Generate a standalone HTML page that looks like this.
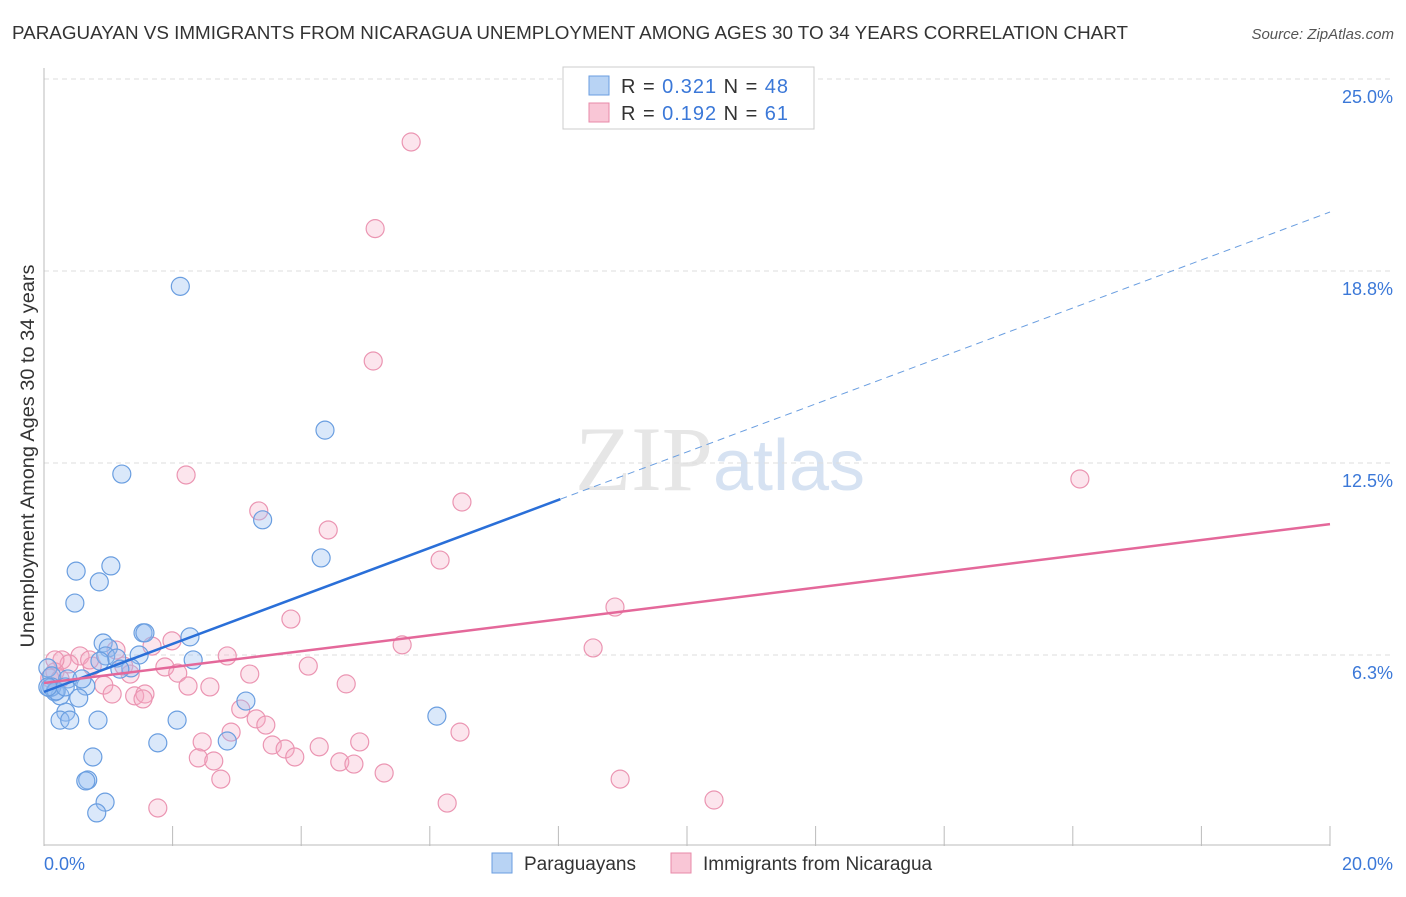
<!DOCTYPE html>
<html><head><meta charset="utf-8"><style>
body{margin:0;background:#fff;font-family:"Liberation Sans",sans-serif}
</style></head><body>
<svg id="chart" width="1406" height="892" xmlns="http://www.w3.org/2000/svg" font-family="Liberation Sans, sans-serif">
<text x="12" y="39" font-size="18" fill="#333" textLength="1116" lengthAdjust="spacingAndGlyphs">PARAGUAYAN VS IMMIGRANTS FROM NICARAGUA UNEMPLOYMENT AMONG AGES 30 TO 34 YEARS CORRELATION CHART</text>
<text x="1394" y="39" font-size="15" fill="#555" font-style="italic" text-anchor="end">Source: ZipAtlas.com</text>
<text x="720" y="490" font-size="92" text-anchor="middle" fill="#e6e6e6" font-family="Liberation Serif, serif">ZIP<tspan fill="#d6e2f2" font-family="Liberation Sans, sans-serif" font-size="72">atlas</tspan></text>
<text transform="translate(34,456) rotate(-90)" font-size="19" fill="#333" text-anchor="middle" textLength="383" lengthAdjust="spacingAndGlyphs">Unemployment Among Ages 30 to 34 years</text>
<g id="grid"></g><g id="axes"></g><g id="pts"></g><g id="lines"></g>
<g>
<rect x="563" y="67" width="251" height="62" fill="#fff" stroke="#ccc"/>
<rect x="589" y="76" width="20" height="19" fill="#b8d3f4" stroke="#6a9ee0"/>
<rect x="589" y="103" width="20" height="19" fill="#f9c6d6" stroke="#e88aa8"/>
<text x="621" y="93" font-size="20" fill="#333" textLength="167" lengthAdjust="spacing">R = <tspan fill="#3b78d8">0.321</tspan>   N = <tspan fill="#3b78d8">48</tspan></text>
<text x="621" y="120" font-size="20" fill="#333" textLength="167" lengthAdjust="spacing">R = <tspan fill="#3b78d8">0.192</tspan>   N =  <tspan fill="#3b78d8">61</tspan></text>
</g>
<g>
<rect x="492" y="853" width="20" height="20" fill="#b8d3f4" stroke="#6a9ee0"/>
<text x="524" y="870" font-size="19" fill="#333">Paraguayans</text>
<rect x="671" y="853" width="20" height="20" fill="#f9c6d6" stroke="#e88aa8"/>
<text x="703" y="870" font-size="19" fill="#333">Immigrants from Nicaragua</text>
</g>
</svg>
<script>
const yTicks=[6.25,12.5,18.75,25];
const yTickLabels=["6.3%","12.5%","18.8%","25.0%"];
const xTickLabels=["0.0%","20.0%"];
const bluePts=[[2.12,18.25],[4.37,13.57],[1.21,12.14],[3.40,10.65],[4.31,9.41],[0.50,8.98],[1.04,9.15],[0.86,8.63],[0.48,7.94],[1.54,6.97],[1.57,6.97],[2.27,6.84],[0.92,6.64],[1.00,6.48],[1.48,6.25],[0.96,6.22],[1.13,6.15],[2.32,6.09],[1.35,5.83],[0.06,5.83],[0.12,5.57],[0.37,5.47],[0.65,5.24],[0.09,5.18],[0.17,5.05],[0.25,4.92],[0.54,4.85],[0.34,4.39],[0.25,4.13],[0.40,4.13],[0.84,4.13],[2.07,4.13],[3.14,4.75],[1.77,3.39],[2.85,3.45],[0.76,2.93],[6.11,4.26],[0.68,2.18],[0.65,2.15],[0.95,1.46],[0.82,1.11],[0.12,5.21],[0.19,5.08],[0.59,5.47],[1.18,5.79],[0.87,6.05],[0.06,5.21],[0.33,5.21]];
const pinkPts=[[5.71,22.95],[5.15,20.13],[5.12,15.82],[2.21,12.11],[16.11,11.98],[6.50,11.23],[3.34,10.94],[4.42,10.32],[6.16,9.34],[8.88,7.81],[3.84,7.42],[1.99,6.71],[8.54,6.48],[5.57,6.58],[1.12,6.41],[1.68,6.54],[2.85,6.22],[0.56,6.22],[0.28,6.09],[0.39,5.96],[0.17,5.70],[0.09,5.50],[0.75,5.89],[1.24,5.89],[1.88,5.86],[2.08,5.66],[3.20,5.63],[4.11,5.89],[4.70,5.31],[2.24,5.24],[2.58,5.21],[0.93,5.27],[1.34,5.63],[1.06,4.98],[1.41,4.92],[1.57,4.98],[1.54,4.82],[3.06,4.49],[3.30,4.17],[2.91,3.74],[3.45,3.97],[6.47,3.74],[2.46,3.42],[4.91,3.42],[3.55,3.32],[3.75,3.19],[4.28,3.26],[3.90,2.93],[2.40,2.90],[2.64,2.80],[4.60,2.77],[4.82,2.70],[5.29,2.41],[2.75,2.21],[8.96,2.21],[6.27,1.43],[10.42,1.53],[1.77,1.27],[0.17,6.09],[0.71,6.09],[0.25,5.47]];
const blueTrend=[5.05,20.67];
const pinkTrend=[5.34,10.51];
const blueSolidEnd=8.03;
const NS="http://www.w3.org/2000/svg";
const X=v=>44+v/20*1286, Y=v=>847-v*30.72;
function mk(t,a,p){const e=document.createElementNS(NS,t);for(const k in a)e.setAttribute(k,a[k]);document.getElementById(p).appendChild(e);return e;}
yTicks.forEach((t,i)=>{
 const g=mk('line',{x1:44,x2:1394,y1:Y(t),y2:Y(t),stroke:'#ddd','stroke-dasharray':'5,4'},'grid');
 
 
 const l=mk('text',{x:1393,y:Y(t)+24,'font-size':18,fill:'#3b78d8','text-anchor':'end'},'axes');l.textContent=yTickLabels[i];
 
 
});
mk('line',{x1:44,x2:44,y1:68,y2:846,stroke:'#bbb'},'axes');
mk('line',{x1:44,x2:1330,y1:845,y2:845,stroke:'#bbb'},'axes');
for(let i=1;i<=10;i++){const t=mk('line',{x1:X(i*2),x2:X(i*2),y1:826,y2:846,stroke:'#bbb'},'axes');
 
 }
[[0,'start',44],[1,'end',1393]].forEach(([i,a,x])=>{const l=mk('text',{x:x,y:870,'font-size':18,fill:'#3b78d8','text-anchor':a},'axes');l.textContent=xTickLabels[i];
 
 });
pinkPts.forEach(p=>{const c=mk('circle',{cx:X(p[0]),cy:Y(p[1]),r:9,fill:'rgba(246,170,195,0.3)',stroke:'#eb95b2','stroke-width':1.2},'pts');
 
 });
bluePts.forEach(p=>{const c=mk('circle',{cx:X(p[0]),cy:Y(p[1]),r:9,fill:'rgba(150,190,240,0.35)',stroke:'#6a9ee0','stroke-width':1.2},'pts');
 
 });
const by=x=>blueTrend[0]+(blueTrend[1]-blueTrend[0])*x/20;
let l1=mk('line',{x1:X(0),y1:Y(by(0)),x2:X(blueSolidEnd),y2:Y(by(blueSolidEnd)),stroke:'#2a6fd8','stroke-width':2.5},'lines');


let l2=mk('line',{x1:X(blueSolidEnd),y1:Y(by(blueSolidEnd)),x2:X(20),y2:Y(by(20)),stroke:'#6a9ee0','stroke-width':1,'stroke-dasharray':'7,5'},'lines');


let l3=mk('line',{x1:X(0),y1:Y(pinkTrend[0]),x2:X(20),y2:Y(pinkTrend[1]),stroke:'#e4689a','stroke-width':2.5},'lines');


</script>
</body></html>
